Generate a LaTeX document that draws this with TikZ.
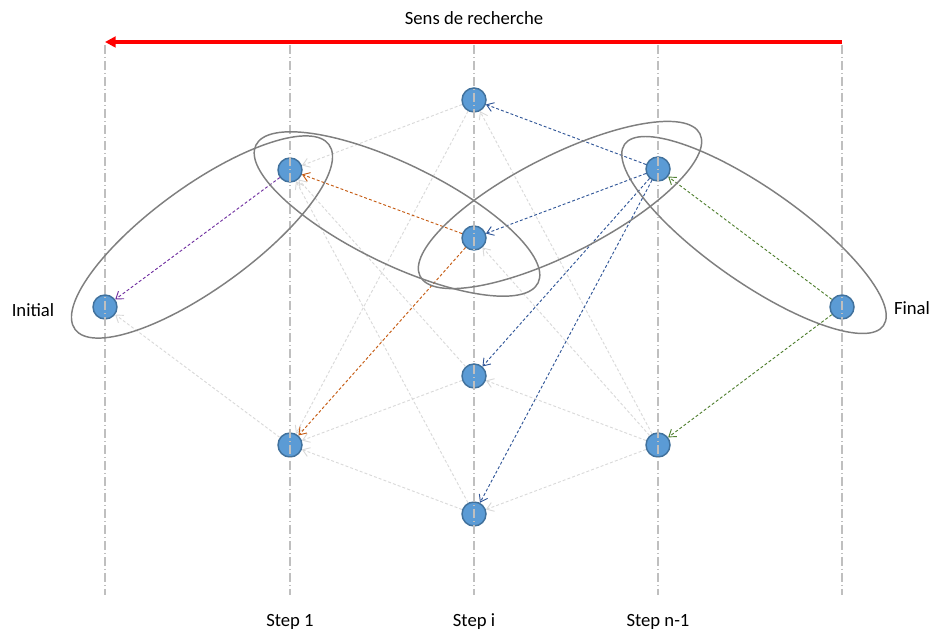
\documentclass[tikz,border=0pt]{standalone}
\usepackage{fontspec}
\setmainfont{Carlito}
\usetikzlibrary{arrows.meta}
\definecolor{nodefill}{HTML}{5B9BD5}
\definecolor{nodedraw}{HTML}{41719C}
\definecolor{vgray}{HTML}{BFBFBF}
\definecolor{egray}{HTML}{D9D9D9}
\definecolor{elgray}{HTML}{7F7F7F}
\definecolor{cpurple}{HTML}{7030A0}
\definecolor{corange}{HTML}{C55A11}
\definecolor{cblue}{HTML}{2F5597}
\definecolor{cgreen}{HTML}{548235}
\definecolor{cred}{HTML}{FF0000}
\tikzset{
  pt/.style={circle,fill=nodefill,draw=nodedraw,line width=1.1pt,minimum size=18pt,inner sep=0pt},
  vline/.style={draw=vgray,line width=0.8pt,dash pattern=on 7pt off 2pt on 1pt off 2pt},
  link/.style={line width=0.7pt,dash pattern=on 2.2pt off 1.6pt,-{Straight Barb[length=5pt,width=7pt]}},
  glink/.style={link,draw=egray},
  hoop/.style={draw=elgray,line width=1.1pt},
  lbl/.style={inner sep=0pt}
}
\begin{document}
\begin{tikzpicture}[x=0.75pt,y=0.75pt,font=\fontsize{14}{17}\selectfont]
\useasboundingbox (0,0) rectangle (936,632);

% nodes
\node[pt] (I)    at (105,325) {};
\node[pt] (S1a)  at (290,462) {};
\node[pt] (S1b)  at (290,187) {};
\node[pt] (Si1)  at (474,532) {};
\node[pt] (Si2)  at (474,394) {};
\node[pt] (Si3)  at (474,256) {};
\node[pt] (Si4)  at (474,118) {};
\node[pt] (Sn1a) at (658,463) {};
\node[pt] (Sn1b) at (658,187) {};
\node[pt] (F)    at (842,325) {};

% vertical lines
\foreach \n/\x in {1/105,2/290,3/474,4/658,5/842}{
  \coordinate (t\n) at (\x,587);
  \coordinate (b\n) at (\x,37);
  \draw[vline] (t\n) -- (b\n);
}

% gray links
\draw[glink] (Si1) -- (S1a);
\draw[glink] (Si3) -- (S1a);
\draw[glink] (Si4) -- (S1a);
\draw[glink] (Si1) -- (S1b);
\draw[glink] (Si3) -- (S1b);
\draw[glink] (Si4) -- (S1b);
\draw[glink] (S1b) -- (I);
\draw[glink] (Sn1b) -- (Si1);
\draw[glink] (Sn1b) -- (Si2);
\draw[glink] (Sn1b) -- (Si3);
\draw[glink] (Sn1b) -- (Si4);

% coloured links
\draw[link,draw=cpurple] (S1a) -- (I);
\draw[link,draw=corange] (Si2) -- (S1a);
\draw[link,draw=corange] (Si2) -- (S1b);
\draw[link,draw=cblue] (Sn1a) -- (Si1);
\draw[link,draw=cblue] (Sn1a) -- (Si2);
\draw[link,draw=cblue] (Sn1a) -- (Si3);
\draw[link,draw=cblue] (Sn1a) -- (Si4);
\draw[link,draw=cgreen] (F) -- (Sn1a);
\draw[link,draw=cgreen] (F) -- (Sn1b);

% ellipses
\draw[hoop,rotate around={36:(202,395)}] (202,395) ellipse [x radius=117.75pt,y radius=38.25pt];
\draw[hoop,rotate around={-26:(397,418)}] (397,418) ellipse [x radius=117.75pt,y radius=37.5pt];
\draw[hoop,rotate around={27:(560,427)}] (560,427) ellipse [x radius=117.75pt,y radius=36.75pt];
\draw[hoop,rotate around={-35:(754,397)}] (754,397) ellipse [x radius=118.5pt,y radius=35.25pt];

% red arrow
\coordinate (ra) at (842,590);
\coordinate (rb) at (105,590);
\draw[draw=cred,line width=2.3pt,-{Triangle[length=8pt,width=8pt]}] (ra) -- (rb);

% labels
\node[lbl] (title) at (474,614) {Sens de recherche};
\node[lbl] (linit) at (33,322) {Initial};
\node[lbl] (lfin)  at (912,324) {Final};
\node[lbl] (l1) at (290,10) {Step 1};
\node[lbl] (l2) at (474,10) {Step i};
\node[lbl] (l3) at (658,10) {Step n-1};
\end{tikzpicture}
\end{document}
